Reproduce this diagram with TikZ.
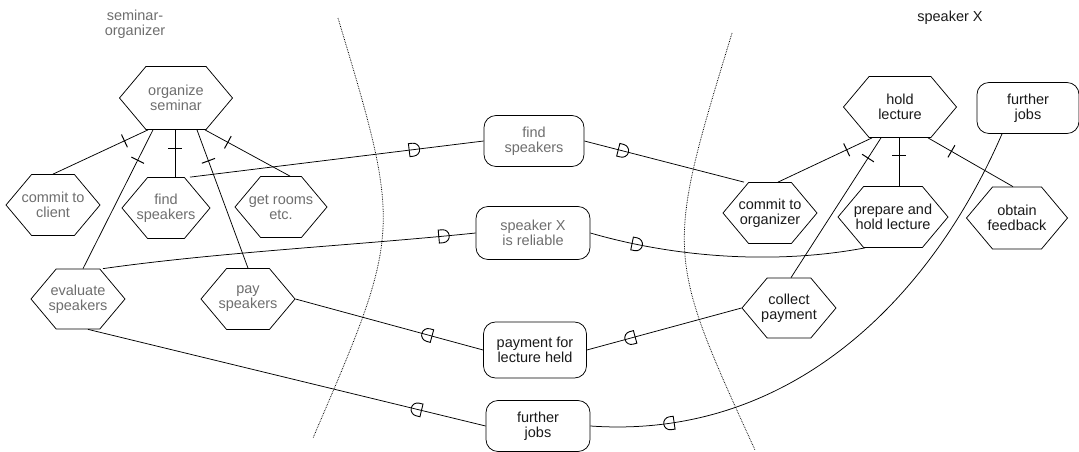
\documentclass[tikz,border=0pt]{standalone}
\usepackage{fontspec}
\setmainfont{Liberation Sans}
\usetikzlibrary{shapes.symbols,decorations.markings}
\definecolor{cOrg}{HTML}{6E6E6E}
\definecolor{cInk}{HTML}{1A1A1A}
\newcommand{\dmark}{\draw[line width=0.9pt] (-4pt,-6.5pt) -- (-4pt,6.5pt) -- (0pt,6.5pt) arc[start angle=90,end angle=-90,radius=6.5pt] -- cycle;}
\newcommand{\dmarkrev}{\draw[line width=0.9pt] (4pt,-6.5pt) -- (4pt,6.5pt) -- (0pt,6.5pt) arc[start angle=90,end angle=270,radius=6.5pt] -- cycle;}

\begin{document}
\begin{tikzpicture}[
    x=1pt, y=-1pt,
    font=\fontsize{14.5}{15}\selectfont,
    every node/.style={text=cInk},
    every path/.style={line width=0.7pt},
    task/.style={
        signal, signal to=east and west, signal pointer angle=100,
        draw=black, line width=0.75pt, minimum width=94pt, minimum height=61pt,
        inner xsep=-22pt, inner ysep=0pt, align=center
    },
    goal/.style={
        rectangle, rounded corners=12pt, draw=black, line width=0.75pt,
        minimum width=100pt, minimum height=51pt, inner sep=0pt, align=center
    },
    org/.style={text=cOrg},
    actorlbl/.style={align=center, inner sep=0pt},
    boundary/.style={densely dotted, line width=0.8pt, draw=black},
    link/.style={draw=black, line width=0.75pt},
    decomp/.style={link, postaction={decorate, decoration={markings,
        mark=at position #1 with {\draw[line width=1pt] (0pt,-7pt) -- (0pt,7pt);}}}},
    depto/.style={link, postaction={decorate, decoration={markings,
        mark=at position #1 with {\dmark}}}},
    depback/.style={link, postaction={decorate, decoration={markings,
        mark=at position #1 with {\dmarkrev}}}},
]
\useasboundingbox (0,0) rectangle (1079,452);

% =====================================================
% Actor boundaries and labels
% =====================================================

\coordinate (bndL1) at (338,18);
\coordinate (bndL2) at (313,438);
\coordinate (bndR1) at (732,33);
\coordinate (bndR2) at (755,450);
\draw[boundary] (bndL1) .. controls (402,231) .. (bndL2);
\draw[boundary] (bndR1) .. controls (665,253) .. (bndR2);

\node[actorlbl, org] (orgLbl) at (135,24) {seminar-\\organizer};
\node[actorlbl]      (spkLbl) at (950,18) {speaker X};

% =====================================================
% Seminar organizer
% =====================================================

\node[task, org, minimum width=113pt, minimum height=63pt] (orgSem) at (176,98) {organize\\seminar};
\node[task, org] (commitCl) at (53,205) {commit to\\client};
\node[task, org, minimum width=88pt] (findSpk) at (166,208) {find\\speakers};
\node[task, org, minimum width=92pt] (getRooms) at (281,207) {get rooms\\etc.};
\node[task, org, minimum height=60pt] (evalSpk) at (78,299) {evaluate\\speakers};
\node[task, org] (paySpk) at (248,299) {pay\\speakers};

\draw[decomp=26pt] ([xshift=-28pt]orgSem.south) -- (commitCl.north);
\draw[decomp=19pt] ([xshift=-1pt]orgSem.south) -- ([xshift=-1pt]orgSem.south |- findSpk.north);
\draw[decomp=26pt] ([xshift=29pt]orgSem.south) -- ([xshift=9pt]getRooms.north);
\draw[decomp=34pt] ([xshift=-23pt]orgSem.south) -- ([xshift=5pt]evalSpk.north);
\draw[decomp=33pt] ([xshift=21pt]orgSem.south) -- (paySpk.north);

% =====================================================
% Dependums
% =====================================================

\node[goal, org] (findGoal) at (534,141) {find\\speakers};
\node[goal, org, minimum width=114pt, minimum height=53pt] (reliable) at (533,233) {speaker X\\is reliable};
\node[goal, minimum width=103pt, minimum height=56pt] (payment) at (535,350) {payment for\\lecture held};
\node[goal, minimum width=104pt] (jobsMid) at (538,426) {further\\jobs};

% =====================================================
% Speaker X
% =====================================================

\node[task, minimum width=113pt] (holdLec) at (900,107) {hold\\lecture};
\node[goal, minimum width=102pt] (jobsSpk) at (1028,108) {further\\jobs};
\node[task] (commitOrg) at (770,213) {commit to\\organizer};
\node[task, minimum width=110pt] (prepLec) at (893,217) {prepare and\\hold lecture};
\node[task, minimum width=101pt, minimum height=62pt] (feedback) at (1017,218) {obtain\\feedback};
\node[task, minimum height=60pt] (collect) at (789,308) {collect\\payment};

\draw[decomp=28pt] ([xshift=-28pt]holdLec.south) -- ([xshift=8pt]commitOrg.north);
\draw[decomp=24pt] ([xshift=-19pt]holdLec.south) -- ([xshift=2pt]collect.north);
\draw[decomp=18pt] ([xshift=-1pt]holdLec.south) -- ([xshift=-1pt]holdLec.south |- prepLec.north);
\draw[decomp=27pt] ([xshift=28pt]holdLec.south) -- ([xshift=-4pt]feedback.north);

% =====================================================
% Dependencies
% =====================================================

\draw[depto=-71pt] ([xshift=24pt]findSpk.north) -- (findGoal.west);
\draw[depto=39pt]  (findGoal.east) -- ([xshift=-26pt]commitOrg.north);
\draw[depto=-33pt] ([xshift=25pt]evalSpk.north) .. controls (220,252) and (360,245) .. (reliable.west);
\draw[depto=47pt]  (reliable.east) .. controls (680,259) and (780,264) .. ([xshift=-28pt]prepLec.south);
\draw[depback=-57pt] (paySpk.east) -- (payment.west);
\draw[depback=46pt]  (payment.east) -- (collect.west);
\draw[depback=-70pt] ([xshift=10pt]evalSpk.south) -- (jobsMid.west);
\draw[depback=80pt]  (jobsMid.east) .. controls (790,440) and (930,300) .. ([xshift=-26pt]jobsSpk.south);

\end{tikzpicture}
\end{document}
